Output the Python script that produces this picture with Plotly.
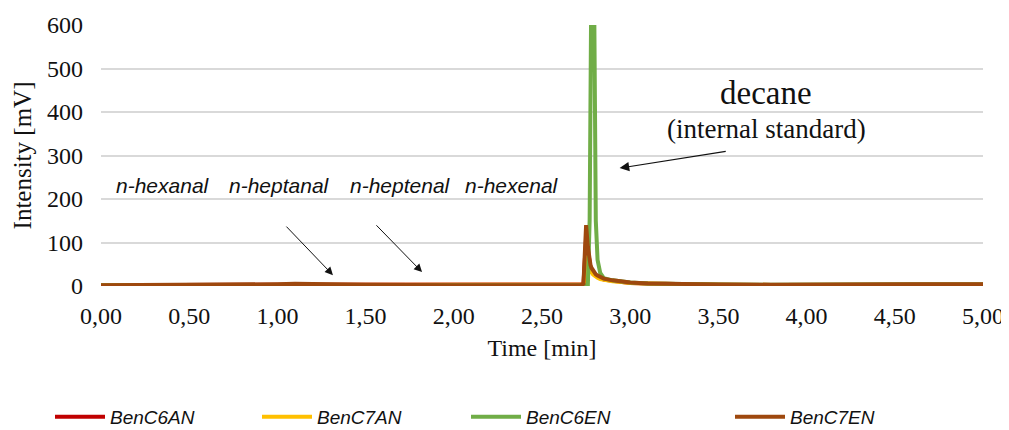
import plotly.graph_objects as go

# ---- data ----
time_min = [0.00, 0.40, 0.80, 1.00, 1.10, 1.20, 1.50, 2.00, 2.50, 2.72,
            2.735, 2.75, 2.76, 2.77, 2.775, 2.78, 2.79, 2.795, 2.805, 2.815,
            2.83, 2.85, 2.90, 2.95, 3.00, 3.10, 3.25, 3.50, 3.80, 4.10,
            4.40, 4.60, 4.80, 5.00]

ben_c6an = [2, 2, 2, 3, 4, 3, 2, 2, 2, 2,
            4, 110, 75, 48, 42, 37, 30, 27, 24, 21,
            18, 15, 12, 9, 7, 5.5, 4, 3, 2.5, 2,
            2, 3, 3, 3]
ben_c7an = [2, 2, 2, 3, 4, 3, 2, 2, 2, 2,
            2, 3, 70, 45, 38, 32, 26, 24, 21, 19,
            16, 14, 11, 9, 7, 5.5, 4, 3, 2.5, 2,
            2, 3, 3, 3]
ben_c6en = [2, 2, 2, 3, 4, 3, 2, 2, 2, 2,
            2, 2, 2, 150, 500, 720, 760, 700, 150, 60,
            30, 18, 13, 10, 8, 6, 4.5, 3.5, 3, 2.5,
            2.5, 4, 4, 4]
ben_c7en = [2, 2, 3, 4, 5, 4, 3, 2, 2, 2,
            5, 140, 90, 55, 48, 42, 34, 31, 27, 24,
            20, 17, 13, 10, 8, 6, 4.5, 3.5, 3, 2.5,
            2.5, 4, 4, 4]

series_names = ["BenC6AN", "BenC7AN", "BenC6EN", "BenC7EN"]
series_colors = ["#C00000", "#FFC000", "#70AD47", "#9E480E"]

x_tick_vals = [0, 0.5, 1, 1.5, 2, 2.5, 3, 3.5, 4, 4.5, 5]
x_tick_text = ["0,00", "0,50", "1,00", "1,50", "2,00", "2,50",
               "3,00", "3,50", "4,00", "4,50", "5,00"]
y_tick_vals = [0, 100, 200, 300, 400, 500, 600]

compound_labels = ["n-hexanal", "n-heptanal", "n-heptenal", "n-hexenal"]
compound_label_x = [0.35, 1.01, 1.70, 2.33]

serif = "Liberation Serif"
sans = "Liberation Sans"
ink = "#111111"

# figure sits inside the page body's 8px margin
W, H = 1001, 422
legend_ids = ["legend", "legend2", "legend3", "legend4"]
legend_x_px = [42, 249, 458, 722]

fig = go.Figure()
for name, vals, col, lid in zip(series_names, [ben_c6an, ben_c7an, ben_c6en, ben_c7en],
                                series_colors, legend_ids):
    fig.add_trace(go.Scatter(x=time_min, y=vals, mode="lines", name=name, legend=lid,
                             line=dict(color=col, width=4)))

annotations = []
for lab, lx in zip(compound_labels, compound_label_x):
    annotations.append(dict(x=lx, y=232, xref="x", yref="y", text="<i>" + lab + "</i>",
                            showarrow=False, font=dict(family=sans, size=21, color=ink),
                            xanchor="center", yanchor="middle"))

annotations += [
    dict(x=3.77, y=443, xref="x", yref="y", text="decane", showarrow=False,
         font=dict(family=serif, size=33, color=ink)),
    dict(x=3.77, y=362, xref="x", yref="y", text="(internal standard)", showarrow=False,
         font=dict(family=serif, size=27, color=ink)),
    dict(x=2.94, y=271, ax=3.55, ay=310, xref="x", yref="y", axref="x", ayref="y",
         text="", showarrow=True, arrowhead=2, arrowsize=1.6, arrowwidth=1.2, arrowcolor=ink),
    dict(x=1.315, y=25, ax=1.043, ay=140, xref="x", yref="y", axref="x", ayref="y",
         text="", showarrow=True, arrowhead=2, arrowsize=1.6, arrowwidth=1.0, arrowcolor=ink),
    dict(x=1.82, y=32, ax=1.553, ay=143, xref="x", yref="y", axref="x", ayref="y",
         text="", showarrow=True, arrowhead=2, arrowsize=1.6, arrowwidth=1.0, arrowcolor=ink),
]

layout_legends = {}
for lid, lx in zip(legend_ids, legend_x_px):
    layout_legends[lid] = dict(
        orientation="h", xref="container", yref="container",
        x=lx / W, xanchor="left", y=1 - 409 / H, yanchor="middle",
        font=dict(family=sans, size=19, color=ink, style="italic"),
        itemwidth=50, bgcolor="rgba(0,0,0,0)", borderwidth=0,
    )

fig.update_layout(
    width=W, height=H,
    margin=dict(l=93, r=26, t=17, b=144, autoexpand=False),
    paper_bgcolor="white", plot_bgcolor="white",
    showlegend=True,
    annotations=annotations,
    xaxis=dict(range=[0, 5], tickvals=x_tick_vals, ticktext=x_tick_text,
               showgrid=False, zeroline=False, showline=False, ticks="",
               automargin=False, ticklabelstandoff=13,
               tickfont=dict(family=serif, size=24, color=ink),
               title=dict(text="Time [min]", font=dict(family=serif, size=24, color=ink),
                          standoff=11)),
    yaxis=dict(range=[0, 600], tickvals=y_tick_vals,
               showgrid=True, gridcolor="#D9D9D9", gridwidth=1.5,
               zeroline=False, showline=False, ticks="", ticklabelstandoff=17,
               automargin=False,
               tickfont=dict(family=serif, size=24, color=ink),
               title=dict(text="Intensity [mV]", font=dict(family=serif, size=25, color=ink),
                          standoff=8)),
    **layout_legends,
)

fig.write_html("out.html")
